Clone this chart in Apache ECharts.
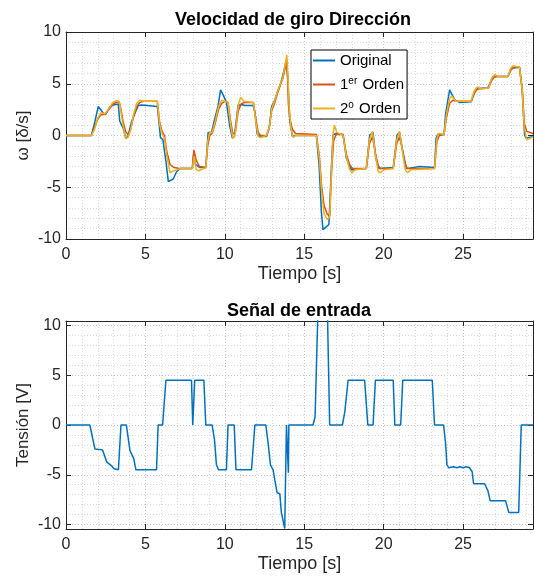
<!DOCTYPE html>
<html><head><meta charset="utf-8">
<script src="https://cdn.jsdelivr.net/npm/echarts@6/dist/echarts.min.js"></script>
<style>html,body{margin:0;padding:0;background:#fff}#c{width:534px;height:578px}</style>
</head><body><div id="c"></div>
<script>
// ---- Data ----
const xTicks = [0, 5, 10, 15, 20, 25];
const seriesNames = ['Original', '1er Orden', '2o Orden'];

// Original angular speed
const tOrig = [0,1.6,1.82,2.03,2.13,2.35,2.5,2.77,2.98,3.29,3.35,3.38,3.6,3.77,3.9,4.13,4.34,4.55,4.76,5.75,5.95,6.1,6.3,6.44,6.54,6.75,6.96,7.17,7.95,8.05,8.15,8.43,8.8,8.95,9.16,9.37,9.58,9.73,9.9,10.1,10.3,10.47,10.6,10.83,11.05,11.26,11.78,11.9,12.03,12.2,12.62,12.79,12.94,13.14,13.3,13.46,13.6,13.77,13.88,13.98,14.09,14.26,14.4,15.76,15.93,16.08,16.18,16.4,16.55,16.71,16.81,17.0,17.44,17.65,17.97,18.03,18.91,19.12,19.33,19.5,19.7,20.6,20.84,21.0,21.2,21.43,22.26,23.2,23.3,23.4,23.8,23.9,24.15,24.47,24.78,25.5,25.83,26.56,26.87,27.82,28.03,28.55,28.72,28.87,28.97,29.4];
const wOrig = [0,0,1.35,2.8,2.85,2.15,2.05,2.8,2.95,3.05,3.0,1.4,0.7,-0.27,-0.1,1.35,2.15,2.9,2.95,2.8,-0.2,-0.4,-2.6,-4.46,-4.6,-4.2,-3.5,-3.2,-3.2,-1.6,-2.8,-3.1,-3.1,0.3,0.3,1.65,2.9,4.4,3.9,3.2,1.0,-0.26,-0.1,2.9,3.0,2.9,2.9,2.2,0.2,-0.1,-0.1,0.7,2.8,3.4,4.2,4.8,5.5,6.6,7.3,5.0,1.35,-0.1,0,0,-2.8,-7.4,-9.1,-8.8,-8.6,-3.1,0.05,0.2,0.1,-2.2,-3.3,-3.4,-3.2,0.05,0.3,-2.2,-3.2,-3.1,0.05,0.3,-1.5,-3.2,-3.0,-3.1,-0.27,0.1,0.1,2.1,4.4,3.45,3.2,3.25,4.55,4.6,5.7,5.7,6.5,6.6,4.3,0.05,-0.27,-0.1];

// 1st order model
const tOrd1 = [0,1.6,1.8,2.0,2.2,2.45,2.7,2.95,3.15,3.35,3.45,3.6,3.75,3.9,4.05,4.25,4.45,4.65,4.9,5.75,5.9,6.05,6.2,6.35,6.55,6.8,7.2,7.95,8.05,8.2,8.4,8.8,8.92,9.05,9.2,9.4,9.6,9.8,10.0,10.2,10.35,10.5,10.65,10.85,11.05,11.3,11.8,11.95,12.1,12.25,12.62,12.8,12.95,13.15,13.3,13.5,13.65,13.8,13.9,13.96,14.0,14.1,14.25,14.45,15.76,15.95,16.1,16.25,16.45,16.6,16.72,16.85,17.0,17.44,17.65,17.85,18.05,18.9,19.1,19.3,19.45,19.65,19.8,20.6,20.82,21.0,21.15,21.35,21.5,23.2,23.35,23.5,23.8,23.95,24.15,24.35,24.6,25.5,25.7,25.9,26.6,26.8,27.0,27.82,28.0,28.2,28.55,28.72,28.85,29.0,29.4];
const wOrd1 = [0,0,0.8,1.6,2.0,2.05,2.5,3.0,3.2,3.25,2.6,1.3,0.4,0.1,0.5,1.8,2.8,3.2,3.3,3.3,1.2,0.4,0.0,-1.6,-2.8,-3.1,-3.2,-3.2,-1.4,-2.4,-3.0,-3.1,-1.0,0.0,0.2,1.2,2.5,3.1,3.3,3.2,1.5,0.2,0.2,2.4,3.1,3.2,3.2,1.6,0.3,0.0,0.0,0.8,2.4,3.2,4.0,4.9,5.5,6.5,7.3,5.3,3.0,1.6,0.6,0.2,0.1,-2.0,-5.0,-6.8,-7.6,-7.8,-3.5,-0.5,0.1,0.1,-1.8,-2.8,-3.2,-3.2,-0.8,-0.1,-1.5,-2.9,-3.2,-3.2,-0.8,-0.1,-1.2,-2.8,-3.2,-3.2,-0.6,0.0,0.1,1.7,3.1,3.4,3.3,3.3,4.1,4.5,4.6,5.3,5.7,5.7,6.3,6.6,6.6,4.6,1.2,0.4,0.2];

// 2nd order model
const tOrd2 = [0,1.6,1.8,2.0,2.2,2.45,2.7,2.95,3.15,3.35,3.45,3.6,3.75,3.9,4.05,4.25,4.45,4.65,4.9,5.75,5.9,6.05,6.2,6.35,6.55,6.8,7.2,7.95,8.07,8.2,8.35,8.8,8.92,9.05,9.2,9.4,9.6,9.8,10.0,10.2,10.35,10.5,10.65,10.85,11.0,11.2,11.8,11.95,12.1,12.25,12.62,12.8,12.95,13.15,13.3,13.5,13.65,13.8,13.9,13.98,14.05,14.15,14.3,14.45,15.76,15.95,16.1,16.25,16.45,16.6,16.72,16.82,16.9,17.05,17.44,17.65,17.85,18.0,18.2,18.9,19.1,19.3,19.45,19.65,19.8,20.0,20.6,20.82,21.0,21.15,21.35,21.5,21.7,23.2,23.35,23.45,23.8,23.95,24.15,24.3,24.55,25.5,25.7,25.9,26.1,26.6,26.8,27.0,27.2,27.82,28.0,28.15,28.55,28.72,28.85,29.0,29.2,29.4];
const wOrd2 = [0,0,0.6,1.7,2.2,2.1,2.6,3.2,3.35,3.3,2.4,0.9,-0.3,-0.2,0.4,2.0,3.1,3.4,3.3,3.3,1.0,0.2,-0.3,-2.0,-3.6,-3.4,-3.2,-3.2,-2.0,-3.3,-3.4,-3.1,-0.6,0.3,0.3,1.4,2.8,3.4,3.3,3.2,1.2,-0.3,0.1,3.0,3.7,3.3,3.2,1.3,-0.1,-0.2,0.0,0.8,2.6,3.4,4.2,5.0,5.6,6.9,7.8,5.5,2.8,0.8,-0.2,0.0,0.0,-2.2,-5.6,-7.6,-8.1,-7.9,-3.3,0.2,1.0,0.3,0.0,-2.0,-3.3,-3.6,-3.3,-3.2,-0.4,0.4,-1.6,-3.5,-3.6,-3.3,-3.2,-0.4,0.4,-1.2,-3.3,-3.6,-3.3,-3.2,-0.3,0.2,0.1,2.0,3.6,3.8,3.3,3.3,4.3,4.7,4.5,4.6,5.5,5.9,5.7,5.7,6.5,6.75,6.6,4.4,0.8,-0.4,-0.3,-0.1];

// Input voltage
const tIn = [0,1.5,1.82,2.3,2.56,2.87,3.02,3.3,3.46,3.8,4.03,4.19,4.27,4.4,5.7,5.8,6.08,6.29,7.9,7.98,8.1,8.68,8.8,9.2,9.35,9.47,9.6,10.1,10.2,10.59,10.7,11.68,11.89,12.58,12.73,12.87,13.04,13.14,13.29,13.46,13.56,13.77,13.88,13.98,14.0,14.03,15.55,15.68,15.87,16.45,16.6,17.4,17.55,17.76,18.8,19.0,19.33,19.48,20.6,20.7,21.07,21.2,23.06,23.2,23.77,23.9,23.98,24.1,24.4,24.6,24.8,25.0,25.2,25.4,25.57,25.66,26.35,26.56,26.7,27.67,27.88,28.5,28.66,29.4];
const vIn = [0,0,-2.4,-2.5,-3.7,-4.1,-4.4,-4.5,0,0,-2.6,-3.1,-3.4,-4.5,-4.5,0,0,4.5,4.5,0,4.5,4.5,0,0,-1.5,-4.0,-4.5,-4.5,0,0,-4.5,-4.5,0,0,-1.9,-4.0,-4.5,-5.5,-6.8,-6.9,-8.8,-10.4,0,0,-4.8,0,0,0.8,12,12,0,0,1.3,4.5,4.5,0,0,4.5,4.5,0,0,4.5,4.5,0,0,-1.9,-4.0,-4.3,-4.2,-4.3,-4.2,-4.3,-4.2,-4.3,-4.7,-5.9,-5.9,-6.6,-7.6,-7.6,-8.8,-8.8,0,0];

// ---- Chart ----
const FONT = '"Liberation Sans", Arial, Helvetica, sans-serif';
const AX = '#262626';
const zip = (a, b) => a.map((v, i) => [v, b[i]]);
const chart = echarts.init(document.getElementById('c'), null, {renderer: 'canvas'});

function xAx(gi, pos, showLab) {
  return {
    type: 'value', gridIndex: gi, position: pos, min: 0, max: 29.4, interval: 5,
    name: showLab ? 'Tiempo [s]' : '', nameLocation: 'middle', nameGap: 26,
    nameTextStyle: {fontFamily: FONT, fontSize: 18, color: AX},
    axisLine: {show: true, onZero: false, lineStyle: {color: AX, width: 1}},
    axisTick: {show: true, inside: true, length: 5, lineStyle: {color: AX}},
    axisLabel: {show: showLab, margin: 8, fontFamily: FONT, fontSize: 16, color: AX,
      showMaxLabel: false},
    splitLine: {show: showLab, lineStyle: {type: [1, 2], color: '#c4c4c4', width: 1}},
    minorTick: {show: false, splitNumber: 5},
    minorSplitLine: {show: showLab, lineStyle: {type: [1, 2], color: '#dadada', width: 1}}
  };
}
function yAx(gi, pos, showLab, mn, mx, nm, interval) {
  const o = {
    type: 'value', gridIndex: gi, position: pos, min: mn, max: mx,
    name: showLab ? nm : '', nameLocation: 'middle', nameGap: 34, nameRotate: 90,
    nameMoveOverlap: false,
    nameTextStyle: {fontFamily: FONT, fontSize: 17, color: AX},
    axisLine: {show: true, onZero: false, lineStyle: {color: AX, width: 1}},
    axisTick: {show: true, inside: true, length: 5, lineStyle: {color: AX}},
    axisLabel: {show: showLab, margin: 5, fontFamily: FONT, fontSize: 16, color: AX},
    splitLine: {show: showLab, lineStyle: {type: [1, 2], color: '#c4c4c4', width: 1}},
    minorTick: {show: false, splitNumber: 5},
    minorSplitLine: {show: showLab, lineStyle: {type: [1, 2], color: '#dadada', width: 1}}
  };
  if (interval) o.interval = interval;
  return o;
}

const lineS = (name, xi, yi, data, color) => ({
  name, type: 'line', xAxisIndex: xi, yAxisIndex: yi, data,
  showSymbol: false, symbol: 'none', lineStyle: {width: 1.5, color}, itemStyle: {color},
  emphasis: {disabled: true}, z: 3
});

chart.setOption({
  animation: false,
  backgroundColor: '#ffffff',
  textStyle: {fontFamily: FONT},
  title: [
    {text: 'Velocidad de giro Dirección', left: 288, top: 6, textAlign: 'center',
     textStyle: {fontFamily: FONT, fontSize: 18, fontWeight: 'bold', color: '#000'}},
    {text: 'Señal de entrada', left: 294, top: 297, textAlign: 'center',
     textStyle: {fontFamily: FONT, fontSize: 18, fontWeight: 'bold', color: '#000'}}
  ],
  grid: [
    {left: 66, top: 32, width: 467, height: 207, show: false},
    {left: 66, top: 321, width: 467, height: 208, show: false}
  ],
  xAxis: [xAx(0, 'bottom', true), xAx(0, 'top', false), xAx(1, 'bottom', true), xAx(1, 'top', false)],
  yAxis: [
    yAx(0, 'left', true, -10, 10, 'ω [δ/s]', 5), yAx(0, 'right', false, -10, 10, '', 5),
    yAx(1, 'left', true, -10.45, 10.45, 'Tensión [V]', 0), yAx(1, 'right', false, -10.45, 10.45, '', 0)
  ],
  legend: {
    data: seriesNames, orient: 'vertical', left: 311, top: 50,
    backgroundColor: '#fff', borderColor: '#000', borderWidth: 1,
    padding: [2, 3, 2, 2], itemGap: 7, itemWidth: 22, itemHeight: 2, icon: 'rect',
    formatter: n => n === '1er Orden' ? '1{sup|er} Orden' : (n === '2o Orden' ? '2{sup|o} Orden' : n),
    textStyle: {fontFamily: FONT, fontSize: 15, color: '#000', lineHeight: 17,
      rich: {sup: {fontSize: 10, verticalAlign: 'top', lineHeight: 17, padding: [0, 1, 0, 0]}}}
  },
  series: [
    lineS(seriesNames[0], 0, 0, zip(tOrig, wOrig), '#0072BD'),
    lineS(seriesNames[1], 0, 0, zip(tOrd1, wOrd1), '#D95319'),
    lineS(seriesNames[2], 0, 0, zip(tOrd2, wOrd2), '#EDB120'),
    lineS('Entrada', 2, 2, zip(tIn, vIn), '#0072BD')
  ]
});
</script></body></html>
